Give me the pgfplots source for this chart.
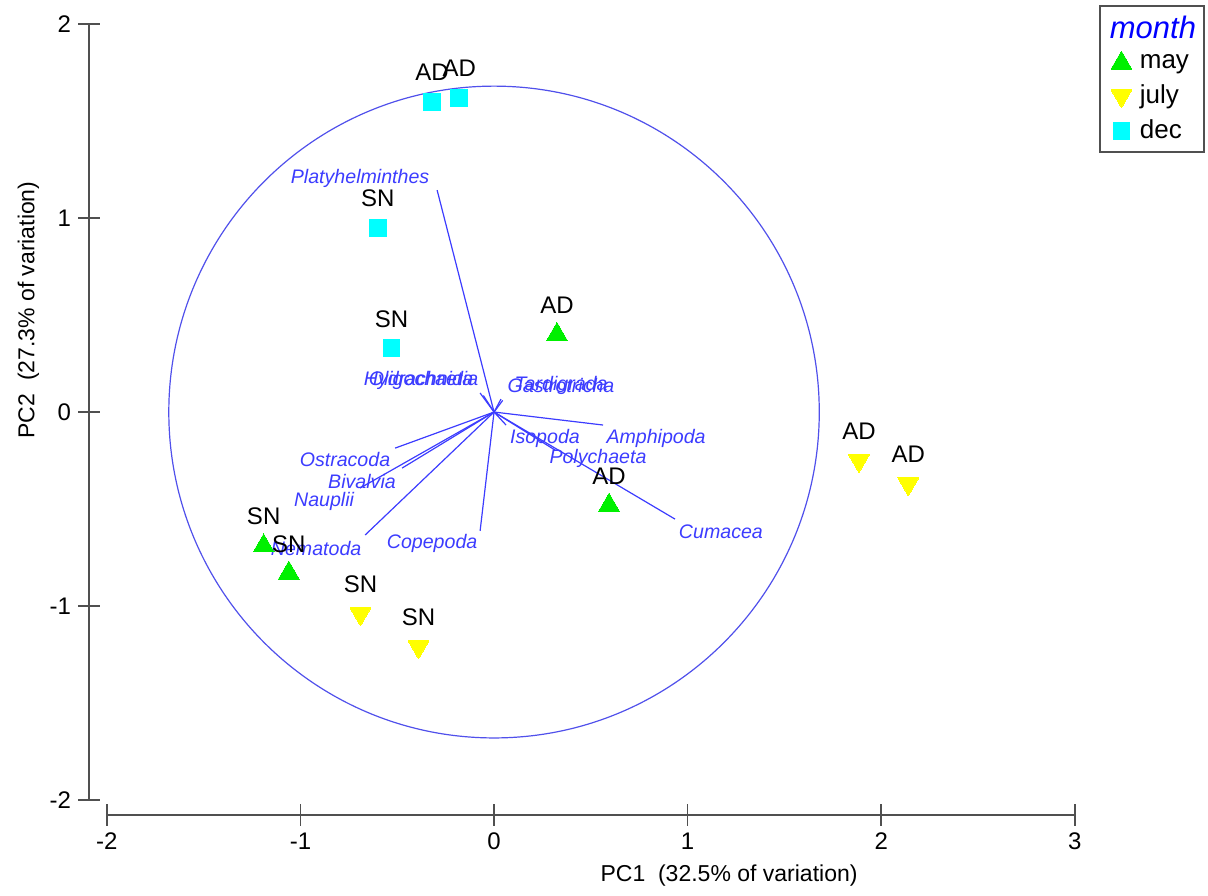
\documentclass[border=0pt]{standalone}
\usepackage{fontspec}
\setmainfont{Liberation Sans}
\usepackage{pgfplots}
\pgfplotsset{compat=1.18}
\definecolor{vec}{RGB}{60,60,255}
\definecolor{circ}{RGB}{80,80,235}
\definecolor{axgray}{RGB}{80,80,80}
\definecolor{mgreen}{RGB}{0,240,0}
\definecolor{myellow}{RGB}{255,255,0}
\definecolor{mcyan}{RGB}{0,255,255}

\pgfplotstableread{
x y label
0.325 0.40 AD
0.594 -0.48 AD
-1.19 -0.69 SN
-1.06 -0.83 SN
}\may
\pgfplotstableread{
x y label
1.885 -0.25 AD
2.14 -0.37 AD
-0.69 -1.04 SN
-0.39 -1.21 SN
}\july
\pgfplotstableread{
x y label
-0.32 1.60 AD
-0.18 1.62 AD
-0.60 0.95 SN
-0.53 0.33 SN
}\dec

\begin{document}
\begin{tikzpicture}
\begin{axis}[
  x=96.8pt, y=97pt,
  xmin=-2.092, xmax=3, ymin=-2.077, ymax=2,
  axis x line*=bottom, axis y line*=left,
  axis line style={draw=none},
  clip=false,
  xtick={-2,-1,0,1,2,3}, ytick={-2,-1,0,1,2},
  tick align=center, major tick length=11pt,
  tick style={axgray, line width=0.8pt},
  ticklabel style={font=\fontsize{12}{14}\selectfont},
  /pgf/number format/assume math mode=true,
  legend style={at={(axis cs:3.672,2.098)}, anchor=north east, draw=axgray, line width=0.9pt,
    font=\fontsize{13}{15}\selectfont, row sep=2.6pt, inner xsep=2pt, inner ysep=3pt},
  legend cell align=left,
  nodenear/.style={nodes near coords, point meta=explicit symbolic,
    every node near coord/.style={anchor=base, yshift=10.5pt, inner sep=0pt, text=black,
      font=\fontsize{12}{14}\selectfont}},
]
\addlegendimage{empty legend}
\addlegendentry{\hspace*{-13pt}\textcolor{blue}{\fontsize{15.5}{17}\selectfont\itshape month}}

\addplot[only marks, mark=triangle*, mark size=6pt, mark options={fill=mgreen, draw=mgreen, line width=0pt}, nodenear]
  table[x=x, y=y, meta=label] {\may};
\addlegendentry{\hspace*{2pt}may}
\addplot[only marks, mark=triangle*, mark size=6pt, mark options={rotate=180, fill=myellow, draw=myellow, line width=0pt}, nodenear]
  table[x=x, y=y, meta=label] {\july};
\addlegendentry{\hspace*{2pt}july}
\addplot[only marks, mark=square*, mark size=4.2pt, mark options={fill=mcyan, draw=mcyan, line width=0pt}, nodenear]
  table[x=x, y=y, meta=label] {\dec};
\addlegendentry{\hspace*{2pt}dec}

% vectors
\addplot[vec, line width=0.6pt, forget plot] coordinates {(0,0) (-0.294,1.144)};
\addplot[vec, line width=0.6pt, forget plot] coordinates {(0,0) (0.563,-0.067)};
\addplot[vec, line width=0.6pt, forget plot] coordinates {(0,0) (0.935,-0.552)};
\addplot[vec, line width=0.6pt, forget plot] coordinates {(0,0) (0.062,-0.067)};
\addplot[vec, line width=0.6pt, forget plot] coordinates {(0,0) (0.315,-0.196)};
\addplot[vec, line width=0.6pt, forget plot] coordinates {(0,0) (-0.072,-0.613)};
\addplot[vec, line width=0.6pt, forget plot] coordinates {(0,0) (-0.666,-0.634)};
\addplot[vec, line width=0.6pt, forget plot] coordinates {(0,0) (-0.511,-0.186)};
\addplot[vec, line width=0.6pt, forget plot] coordinates {(0,0) (-0.475,-0.289)};
\addplot[vec, line width=0.6pt, forget plot] coordinates {(0,0) (-0.692,-0.392)};
\addplot[vec, line width=0.6pt, forget plot] coordinates {(0,0) (-0.072,0.098)};
\addplot[vec, line width=0.6pt, forget plot] coordinates {(0,0) (-0.055,0.085)};
\addplot[vec, line width=0.6pt, forget plot] coordinates {(0,0) (0.036,0.067)};
\addplot[vec, line width=0.6pt, forget plot] coordinates {(0,0) (0.045,0.060)};

\draw[circ, line width=0.6pt] (axis cs:0,0) circle [radius=1.68];

\begin{scope}[every node/.style={text=vec, font=\itshape\fontsize{9.8}{11}\selectfont, inner sep=0pt}]
\node at (axis cs:-0.692,1.206) {Platyhelminthes};
\node at (axis cs:0.837,-0.134) {Amphipoda};
\node at (axis cs:0.263,-0.134) {Isopoda};
\node at (axis cs:0.537,-0.237) {Polychaeta};
\node at (axis cs:1.172,-0.619) {Cumacea};
\node at (axis cs:-0.32,-0.675) {Copepoda};
\node at (axis cs:-0.919,-0.706) {Nematoda};
\node at (axis cs:-0.878,-0.459) {Nauplii};
\node at (axis cs:-0.682,-0.356) {Bivalvia};
\node at (axis cs:-0.770,-0.247) {Ostracoda};
\node at (axis cs:-0.377,0.165) {Oligochaeta};
\node at (axis cs:-0.377,0.165) {Hydrachnidia};
\node at (axis cs:0.346,0.139) {Gastrotricha};
\node at (axis cs:0.346,0.139) {Tardigrada};
\end{scope}

\draw[axgray, line width=1.3pt] (axis cs:-2.092,-2) -- (axis cs:-2.092,2);
\draw[axgray, line width=1.3pt] (axis cs:-2,-2.077) -- (axis cs:3,-2.077);

\node[font=\fontsize{11.5}{13}\selectfont] at (axis cs:1.214,-2.387) {PC1\ \ (32.5\% of variation)};
\node[font=\fontsize{11.5}{13}\selectfont, rotate=90] at (axis cs:-2.405,0.526) {PC2\ \ (27.3\% of variation)};

\coordinate (BL) at (axis cs:-2.552,-2.490);
\coordinate (TR) at (axis cs:3.688,2.124);
\end{axis}
\pgfresetboundingbox
\useasboundingbox (BL) rectangle (TR);
\end{tikzpicture}
\end{document}
